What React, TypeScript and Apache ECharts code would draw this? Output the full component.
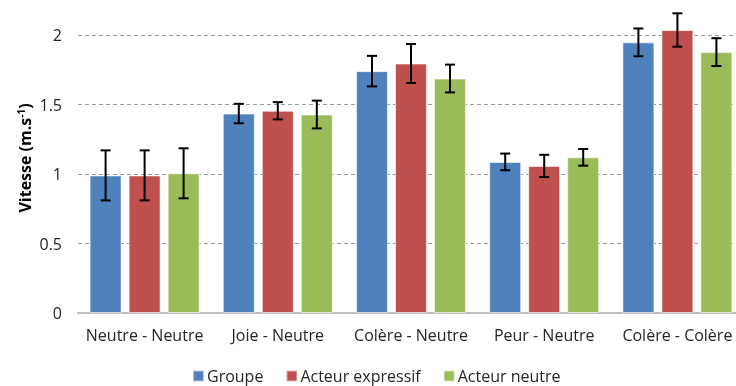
import React, { useEffect, useRef } from "react";
import * as echarts from "echarts";

const categories = ["Neutre - Neutre", "Joie - Neutre", "Colère - Neutre", "Peur - Neutre", "Colère - Colère"];
const seriesNames = ["Groupe", "Acteur expressif", "Acteur neutre"];
const groupe = [0.99, 1.435, 1.74, 1.087, 1.947];
const acteurExpressif = [0.99, 1.455, 1.795, 1.058, 2.036];
const acteurNeutre = [1.005, 1.428, 1.687, 1.12, 1.877];
const errGroupe = [0.18, 0.07, 0.11, 0.06, 0.1];
const errExpressif = [0.18, 0.062, 0.14, 0.08, 0.12];
const errNeutre = [0.18, 0.1, 0.1, 0.06, 0.1];
const yTicks = [0, 0.5, 1, 1.5, 2];
const colors = ["#4F81BD", "#C0504D", "#9BBB59"];
const yTitle = "Vitesse (m.s{sup|-1})";

const BAR_W = 32;
const GAP = 7;

export default function App() {
  const ref = useRef<HTMLDivElement>(null);
  useEffect(() => {
    if (!ref.current) return;
    const chart = echarts.init(ref.current, undefined, { renderer: "svg" });
    const values = [groupe, acteurExpressif, acteurNeutre];
    const errs = [errGroupe, errExpressif, errNeutre];
    const errData: number[][] = [];
    values.forEach((vals, s) => {
      vals.forEach((v, c) => {
        errData.push([c, v - errs[s][c], v + errs[s][c], s]);
      });
    });
    const font = "'Open Sans', sans-serif";
    chart.setOption({
      animation: false,
      textStyle: { fontFamily: font },
      grid: { left: 78, width: 666, top: 35, bottom: 73 },
      legend: {
        top: 368,
        left: 192,
        padding: 0,
        data: seriesNames,
        itemWidth: 11,
        itemHeight: 11,
        itemGap: 22,
        icon: "rect",
        textStyle: { fontSize: 16, color: "#262626", fontFamily: font, padding: [0, 0, 0, -2] },
      },
      graphic: [
        {
          type: "text",
          x: 25,
          y: 158,
          rotation: Math.PI / 2,
          style: {
            text: yTitle,
            align: "center",
            verticalAlign: "middle",
            fontSize: 16,
            fontWeight: "bold",
            fontFamily: font,
            fill: "#000",
            rich: {
              sup: { fontSize: 10, fontWeight: "bold", fontFamily: font, fill: "#000", verticalAlign: "top", padding: [0, 0, 8, 0] },
            },
          },
        },
      ],
      xAxis: {
        type: "category",
        data: categories,
        axisLine: { lineStyle: { color: "#BFBFBF", width: 2 } },
        axisTick: { show: false },
        axisLabel: { interval: 0, fontSize: 16, color: "#262626", margin: 14, fontFamily: font },
      },
      yAxis: {
        type: "value",
        min: yTicks[0],
        max: yTicks[yTicks.length - 1],
        interval: 0.5,
        axisLine: { show: false },
        axisTick: { show: false },
        splitLine: { lineStyle: { color: "#9A9A9A", type: [4, 3], width: 1 } },
        axisLabel: { fontSize: 16, color: "#262626", margin: 16, fontFamily: font },
      },
      series: [
        ...values.map((vals, s) => ({
          type: "bar",
          name: seriesNames[s],
          data: vals,
          barWidth: BAR_W,
          barGap: `${(GAP / BAR_W) * 100}%`,
          clip: false,
          itemStyle: { color: colors[s], borderColor: "rgba(255,255,255,0.6)", borderWidth: 1 },
        })),
        {
          type: "custom",
          name: "err",
          data: errData,
          z: 10,
          clip: false,
          renderItem: (_params: any, api: any) => {
            const c = api.value(0);
            const s = api.value(3);
            const off = (s - 1) * (BAR_W + GAP);
            const lo = api.coord([c, api.value(1)]);
            const hi = api.coord([c, api.value(2)]);
            const x = lo[0] + off;
            const hw = 5;
            const style = { stroke: "#000", lineWidth: 2 };
            return {
              type: "group",
              children: [
                { type: "line", shape: { x1: x, y1: lo[1], x2: x, y2: hi[1] }, style },
                { type: "line", shape: { x1: x - hw, y1: lo[1], x2: x + hw, y2: lo[1] }, style },
                { type: "line", shape: { x1: x - hw, y1: hi[1], x2: x + hw, y2: hi[1] }, style },
              ],
            };
          },
        },
      ],
    });
    return () => chart.dispose();
  }, []);
  return <div ref={ref} style={{ position: "fixed", left: 0, top: 0, width: 760, height: 386 }} />;
}
